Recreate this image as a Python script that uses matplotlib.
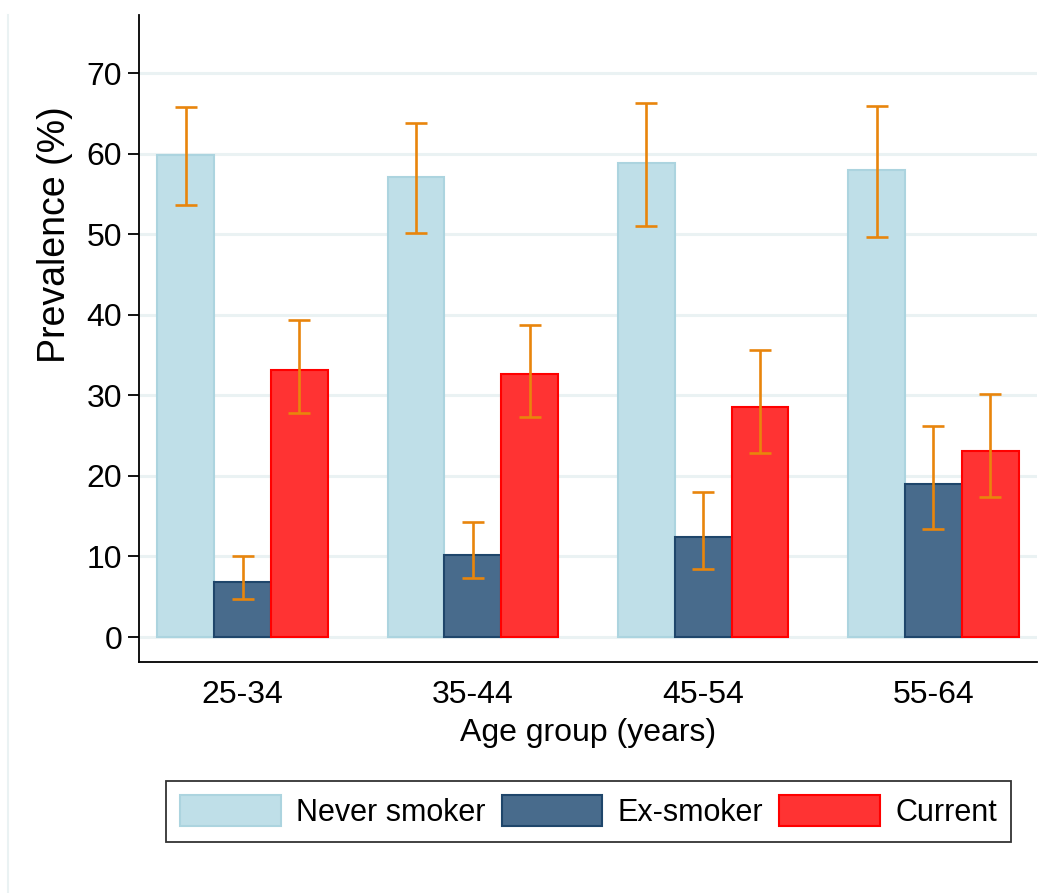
import numpy as np
import matplotlib
matplotlib.use("Agg")
from matplotlib import pyplot as plt
from matplotlib.patches import Patch
from matplotlib.lines import Line2D

age_groups = ['25-34', '35-44', '45-54', '55-64']
series = ['Never smoker', 'Ex-smoker', 'Current']

never = [59.8, 57.1, 58.8, 58.0]
never_lo = [53.6, 50.1, 51.0, 49.6]
never_hi = [65.8, 63.8, 66.3, 65.9]

ex = [6.8, 10.2, 12.4, 19.0]
ex_lo = [4.7, 7.3, 8.4, 13.4]
ex_hi = [10.0, 14.3, 18.0, 26.2]

current = [33.2, 32.6, 28.6, 23.1]
current_lo = [27.8, 27.3, 22.8, 17.4]
current_hi = [39.3, 38.7, 35.6, 30.1]

fills = ['#bfdfe8', '#486b8c', '#ff3333']
edges = ['#acd4df', '#1f466b', '#ff0000']
ci_color = '#e8850c'

plt.rcParams['font.family'] = ['Liberation Sans', 'DejaVu Sans']
fs = 23

fig = plt.figure(figsize=(10.51, 8.93), dpi=100)
ax = fig.add_axes([139 / 1051, 1 - 662 / 893, 898 / 1051, 647 / 893])

# faint outer region line on the left
fig.add_artist(Line2D([8 / 1051, 8 / 1051], [0, 1 - 15 / 893], color='#eaf2f3', lw=1.5))

x = np.arange(len(age_groups))
w = 0.247
vals = [never, ex, current]
los = [never_lo, ex_lo, current_lo]
his = [never_hi, ex_hi, current_hi]
for i in range(3):
    pos = x + (i - 1) * w
    ax.bar(pos, vals[i], w, color=fills[i], edgecolor=edges[i], linewidth=1.5, zorder=2)
    lo = np.array(los[i])
    hi = np.array(his[i])
    mid = (lo + hi) / 2
    ax.errorbar(pos, mid, yerr=[mid - lo, hi - mid], fmt='none', ecolor=ci_color,
                elinewidth=1.9, capsize=8, capthick=1.9, zorder=3)

ax.set_xlim(-0.45, 3.45)
ax.set_ylim(-3.1, 77.2)
ax.set_yticks(range(0, 71, 10))
ax.grid(axis='y', color='#eaf2f3', lw=2.2, zorder=0)
ax.set_axisbelow(True)
ax.set_xticks(x)
ax.set_xticklabels(age_groups, fontsize=fs)
ax.tick_params(axis='y', labelsize=fs)
ax.tick_params(axis='x', length=0, pad=13)
ax.tick_params(axis='y', length=8, width=1.3, pad=4)
ax.spines['top'].set_visible(False)
ax.spines['right'].set_visible(False)
ax.spines['left'].set_linewidth(1.3)
ax.spines['bottom'].set_linewidth(1.3)

ax.set_xlabel('Age group (years)', fontsize=fs, labelpad=6)
ax.set_ylabel('Prevalence (%)', fontsize=27)
ax.yaxis.set_label_coords(-0.073, 0.66)

handles = [Patch(facecolor=fills[i], edgecolor=edges[i], linewidth=1.5) for i in range(3)]
leg = fig.legend(handles, series, loc='center', ncol=3, mode='expand',
                 bbox_to_anchor=(166 / 1051, 1 - 847 / 893, 845 / 1051, 71 / 893),
                 prop={'size': 22}, frameon=True, fancybox=False,
                 edgecolor='black', handlelength=3.3, handleheight=1.2,
                 handletextpad=0.5, borderpad=0.45, borderaxespad=0)
leg.get_frame().set_linewidth(1.3)

fig.savefig('out.png', dpi=100)
